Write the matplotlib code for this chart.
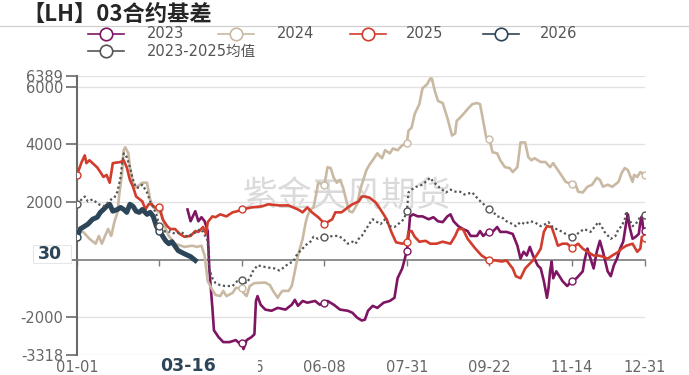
import matplotlib
matplotlib.use('Agg')
import matplotlib.pyplot as plt
from matplotlib.lines import Line2D
from matplotlib.patches import Rectangle

plt.rcParams['font.family'] = ['DejaVu Sans', 'Noto Sans CJK SC']

# 日期轴：366 个类目（含 02-29），每 53 天一个标签
label_days = [0, 53, 106, 159, 212, 265, 318, 365]
label_text = ['01-01', '02-23', '04-16', '06-08', '07-31', '09-22', '11-14', '12-31']

# 2023
d23 = [71, 73, 76, 78, 80, 82, 84, 85, 87, 88, 91, 94, 98, 102, 105, 106, 107, 109, 112, 114,
       115, 116, 118, 121, 125, 129, 134, 138, 140, 142, 145, 148, 153, 156, 159, 161, 165, 169,
       174, 177, 180, 183, 185, 187, 190, 193, 197, 201, 204, 206, 209, 211, 212, 213, 214, 216,
       219, 222, 226, 229, 232, 235, 238, 240, 242, 245, 248, 251, 253, 257, 259, 261, 264, 265,
       267, 270, 272, 276, 280, 283, 285, 287, 289, 291, 293, 296, 298, 300, 302, 303, 304, 305,
       306, 308, 310, 312, 315, 318, 321, 325, 326, 328, 330, 332, 334, 336, 338, 341, 343, 345,
       347, 349, 351, 353, 354, 355, 357, 359, 361, 362, 363, 364, 365]
v23 = [1740, 1330, 1680, 1330, 1470, 1330, 990, -310, -1680, -2460, -2700, -2870, -2870, -2800,
       -2940, -2900, -3110, -2800, -2700, -2600, -1440, -1270, -1570, -1740, -1780, -1680, -1740,
       -1570, -1400, -1610, -1440, -1500, -1440, -1570, -1500, -1440, -1570, -1740, -1780, -1850,
       -2020, -2120, -2090, -1780, -1610, -1680, -1500, -1440, -1330, -650, -310, 100, 300, 820,
       1500, 1570, 1500, 1500, 1400, 1470, 1330, 1300, 1500, 1570, 1330, 1160, 1060, 990, 820,
       820, 990, 820, 960, 960, 960, 1130, 960, 960, 890, 480, 30, 270, 140, 440, 140, -200,
       -310, -750, -1330, -990, -410, -70, -650, -410, -580, -750, -920, -750, -650, -410, -70,
       380, 30, -310, 270, 650, 270, -410, -580, -200, 30, 380, 620, 1300, 1570, 1160, 720, 790,
       890, 1300, 1500, 960, 990]

# 2024
d24 = [0, 4, 8, 12, 14, 16, 18, 20, 22, 24, 26, 27, 29, 30, 31, 33, 34, 36, 38, 42, 45, 47, 49,
       53, 55, 57, 59, 63, 69, 74, 77, 80, 82, 84, 87, 89, 92, 94, 96, 100, 102, 106, 107, 109,
       111, 114, 121, 124, 126, 129, 130, 132, 136, 138, 140, 142, 145, 147, 148, 150, 152, 154,
       155, 159, 161, 163, 165, 167, 169, 171, 174, 175, 177, 180, 182, 184, 186, 188, 190, 193,
       196, 198, 201, 203, 206, 209, 212, 213, 215, 217, 220, 222, 225, 227, 228, 230, 232, 235,
       238, 241, 243, 244, 246, 249, 251, 254, 257, 259, 261, 263, 265, 267, 270, 272, 275, 278,
       280, 283, 285, 288, 290, 292, 294, 298, 301, 304, 306, 309, 312, 314, 318, 320, 322, 325,
       328, 331, 334, 336, 338, 341, 344, 348, 350, 352, 354, 357, 358, 360, 362, 365]
v24 = [960, 960, 720, 550, 820, 550, 820, 1060, 820, 1300, 1640, 2190, 3010, 3800, 3900, 3690,
       3210, 2670, 2500, 2670, 2670, 2090, 1810, 1740, 1470, 1060, 820, 550, 440, 480, 440, 480,
       140, -750, -1060, -1230, -1270, -1090, -1270, -1160, -990, -990, -1160, -1270, -920, -820,
       -800, -890, -1090, -1330, -1230, -1090, -1090, -920, -410, 140, 720, 1300, 1500, 1740,
       1810, 2360, 2670, 2600, 3210, 3180, 2840, 2670, 2770, 2500, 1850, 1680, 1640, 1920, 2430,
       2770, 3110, 3300, 3450, 3690, 3520, 3800, 3690, 3860, 3800, 3970, 4050, 4480, 4580, 5060,
       5400, 5950, 6090, 6290, 6290, 5850, 5510, 5440, 4920, 4310, 4380, 4820, 4920, 5100, 5230,
       5400, 5440, 5400, 4820, 4240, 4200, 3730, 3690, 3450, 3210, 3180, 3040, 3210, 4070, 4070,
       3560, 3450, 3520, 3390, 3390, 3210, 3350, 3110, 2870, 2700, 2620, 2670, 2360, 2330, 2530,
       2600, 2840, 2770, 2530, 2600, 2530, 2700, 3010, 3180, 3110, 2700, 2940, 2870, 3040, 2940]

# 2025
d25 = [0, 3, 5, 6, 8, 10, 13, 15, 17, 19, 21, 22, 23, 28, 30, 32, 34, 36, 38, 42, 44, 46, 48, 50,
       53, 55, 58, 60, 63, 66, 69, 73, 76, 78, 81, 83, 84, 87, 89, 92, 96, 100, 103, 106, 112, 119,
       123, 130, 136, 142, 145, 148, 151, 155, 159, 161, 164, 166, 170, 174, 177, 181, 183, 185,
       188, 192, 195, 199, 202, 205, 209, 212, 213, 215, 217, 220, 224, 227, 231, 235, 240, 243,
       245, 248, 251, 256, 260, 265, 269, 273, 276, 280, 282, 285, 288, 291, 293, 296, 298, 300,
       302, 305, 307, 309, 312, 315, 318, 322, 325, 328, 332, 335, 338, 341, 344, 348, 350, 353,
       357, 360, 362, 363, 365]
v25 = [2940, 3390, 3620, 3350, 3450, 3350, 3200, 3040, 2870, 2940, 2670, 3000, 3350, 3390, 3450,
       3200, 2770, 2530, 2190, 2020, 1740, 1920, 1920, 1810, 1810, 1400, 1160, 1060, 1060, 890,
       790, 820, 990, 960, 1130, 890, 1300, 1500, 1470, 1570, 1500, 1640, 1680, 1740, 1810, 1850,
       1920, 1880, 1880, 1740, 1640, 1810, 1640, 1470, 1250, 1300, 1400, 1640, 1640, 1810, 1920,
       2020, 2190, 2190, 2150, 1980, 1740, 1400, 960, 600, 550, 620, 960, 990, 790, 620, 650, 550,
       550, 620, 550, 820, 1060, 1060, 720, 380, 140, -30, -30, -70, -30, -310, -580, -650, -310,
       -140, -30, 200, 380, 960, 1160, 1130, 820, 480, 550, 550, 400, 550, 380, 270, 140, 140, 100,
       30, 140, 270, 380, 480, 550, 270, 380, 790, 750]

# 2026
d26 = [0, 2, 5, 7, 10, 13, 15, 17, 19, 21, 23, 26, 28, 30, 32, 34, 36, 38, 40, 42, 45, 47, 49,
       51, 52, 53, 55, 57, 59, 61, 65, 69, 73, 76]
v26 = [790, 1060, 1160, 1230, 1400, 1470, 1640, 1740, 1850, 1920, 1680, 1740, 1810, 1740, 1640,
       1920, 1850, 1680, 1640, 1740, 1570, 1640, 1500, 1160, 1060, 1000, 820, 650, 550, 620, 310,
       200, 100, -30]

# 2023-2025均值
davg = [0, 3, 5, 7, 10, 14, 17, 20, 22, 24, 26, 28, 29, 30, 32, 34, 36, 38, 40, 42, 45, 47, 49,
        51, 53, 55, 59, 60, 63, 67, 71, 74, 77, 79, 81, 84, 85, 87, 89, 92, 95, 100, 103, 106, 109,
        111, 113, 116, 119, 123, 127, 130, 132, 136, 139, 141, 143, 145, 148, 150, 152, 155, 159,
        161, 165, 168, 171, 174, 177, 179, 181, 183, 185, 188, 190, 192, 195, 198, 201, 204, 208,
        210, 212, 213, 215, 218, 222, 224, 227, 229, 231, 233, 237, 240, 243, 246, 249, 254, 257,
        260, 263, 265, 267, 270, 273, 276, 280, 282, 285, 288, 291, 294, 298, 301, 303, 305, 308,
        312, 314, 318, 320, 323, 326, 330, 333, 335, 337, 339, 343, 346, 348, 350, 352, 353, 354,
        357, 359, 361, 362, 364, 365]
vavg = [1920, 2090, 2190, 2020, 2090, 1920, 1850, 1980, 2090, 2150, 2360, 2870, 3350, 3690, 3560,
        3210, 2770, 2500, 2500, 2600, 2330, 2020, 1810, 1570, 1160, 990, 960, 990, 890, 960, 790,
        890, 960, 1060, 960, 650, -310, -650, -820, -890, -920, -920, -750, -720, -820, -650, -410,
        -200, -240, -280, -310, -380, -310, -140, -70, 140, 270, 380, 550, 620, 790, 720, 800, 790,
        820, 820, 720, 550, 620, 550, 720, 820, 990, 1250, 1400, 1330, 1230, 1400, 1160, 1130,
        1300, 1400, 1680, 2330, 2430, 2530, 2600, 2700, 2840, 2700, 2600, 2500, 2330, 2430, 2360,
        2360, 2260, 2330, 2150, 1980, 1850, 1750, 1680, 1500, 1470, 1330, 1230, 1160, 1300, 1230,
        1330, 1300, 1160, 1230, 1300, 1160, 1060, 960, 890, 800, 820, 960, 1060, 960, 1160, 1300,
        1160, 960, 720, 820, 1060, 1160, 1400, 1680, 1500, 1160, 1230, 1400, 1500, 1470, 1540]

series = [
    ('2023', d23, v23, '#7E1563', 1.9, '-'),
    ('2024', d24, v24, '#C9B9A3', 1.9, '-'),
    ('2025', d25, v25, '#D23C2C', 1.9, '-'),
    ('2026', d26, v26, '#2C4558', 3.6, '-'),
    ('2023-2025均值', davg, vavg, '#555555', 1.6, (0, (1, 1.2))),
]

W, H = 689, 375
fig = plt.figure(figsize=(W / 100, H / 100), dpi=100)
ax = fig.add_axes([77 / W, 1 - 355 / H, (645 - 77) / W, (355 - 75.7) / H])
ax.set_xlim(0, 365)
ax.set_ylim(-3318, 6389)

for name, d, v, c, lw, ls in series:
    mk = [i for i, x in enumerate(d) if x in label_days]
    ax.plot(d, v, color=c, lw=lw, ls=ls, marker='o', markevery=mk, ms=5,
            mfc='white', mec=c, mew=1, zorder=3, solid_joinstyle='round')

# 坐标轴
for s in ['top', 'right']:
    ax.spines[s].set_visible(False)
ax.spines['bottom'].set_position(('data', 0))
ax.spines['bottom'].set_color('#7a7a7a')
ax.spines['bottom'].set_linewidth(1.2)
ax.spines['left'].set_color('#6a6a6a')
ax.spines['left'].set_linewidth(1.5)

yt = [6389, 6000, 4000, 2000, 0, -2000, -3318]
ax.set_yticks(yt)
ax.set_yticklabels(['6389', '6000', '4000', '2000', '', '-2000', '-3318'])
ax.tick_params(axis='y', length=8, width=1.2, color='#6a6a6a', labelsize=10.5,
               labelcolor='#666666', pad=2)
for y in yt:
    if y != 0:
        ax.axhline(y, color='#e2e2e2', lw=1, zorder=1)

ax.set_xticks(label_days)
ax.set_xticklabels([])
ax.tick_params(axis='x', length=4, width=1, color='#7a7a7a', direction='out')

for d, t in zip(label_days, label_text):
    ax.text(d, -0.018, t, transform=ax.get_xaxis_transform(), ha='center', va='top',
            fontsize=10.5, color='#666666', clip_on=False)

# 水印
ax.text(0.475, 0.565, '紫金天风期货', transform=ax.transAxes, ha='center', va='center',
        fontsize=25, color='#dadada', family='Noto Sans CJK SC', zorder=0.5)

# 指示器标签
fig.add_artist(Rectangle((128 / W, 0), (258 - 128) / W, 1 - 357.5 / H,
                         transform=fig.transFigure, fc='white', ec='none', zorder=5))
fig.text(188 / W, 1 - 366 / H, '03-16', ha='center', va='center', fontsize=12.5,
         weight='bold', color='#2C4558', zorder=6)
fig.add_artist(Rectangle((33 / W, 1 - 263 / H), 38 / W, 18 / H,
                         transform=fig.transFigure, fc='white', ec='#e6e6e6', lw=0.8, zorder=5))
fig.text(50 / W, 1 - 254 / H, '30', ha='center', va='center', fontsize=12.5,
         weight='bold', color='#2C4558', zorder=6)

# 标题
fig.text(22 / W, 1 - 15 / H, '【LH】03合约基差', ha='left', va='center', fontsize=16,
         weight='bold', family='Noto Sans CJK SC', color='#262626')
fig.add_artist(Line2D([0, 1], [1 - 26 / H] * 2, transform=fig.transFigure,
                      color='#cccccc', lw=0.8))

# 图例
leg_pos = [(88, 34, 147), (218, 34, 277), (350, 34, 406), (483, 34, 540), (88, 51, 147)]
for (x0, y0, tx), (name, d, v, c, lw, ls) in zip(leg_pos, series):
    yy = 1 - y0 / H
    fig.add_artist(Line2D([x0 / W, (x0 + 36) / W], [yy, yy], transform=fig.transFigure,
                          color=c, lw=1.2))
    fig.add_artist(Line2D([(x0 + 18) / W], [yy], transform=fig.transFigure, marker='o',
                          ms=9, mfc='white', mec=c, mew=1.2, ls='none'))
    fig.text(tx / W, yy, name, ha='left', va='center', fontsize=10.5, color='#555555')

fig.savefig('out.png', dpi=100)
